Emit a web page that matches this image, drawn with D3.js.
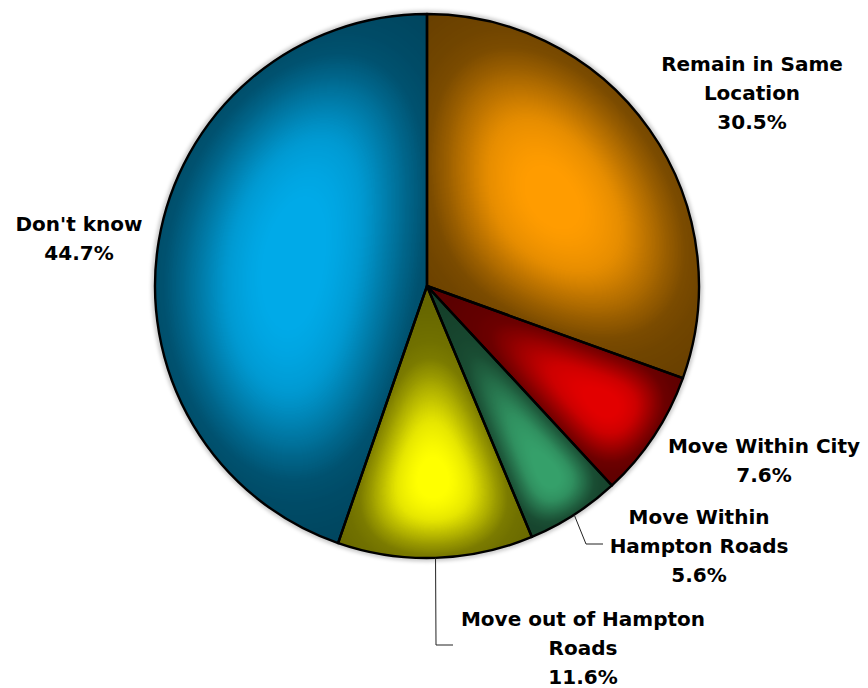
<!DOCTYPE html>
<html>
<head>
<meta charset="utf-8">
<script src="https://cdn.jsdelivr.net/npm/d3@7"></script>
<style>
  html, body { margin: 0; padding: 0; background: #ffffff; }
  svg { display: block; }
  text { font-family: "DejaVu Sans", "Liberation Sans", sans-serif; font-weight: bold; fill: #000; }
</style>
</head>
<body>
<svg id="chart" width="868" height="688"></svg>
<script>
// ---- data ----
const categories = ["Remain in Same Location", "Move Within City", "Move Within Hampton Roads", "Move out of Hampton Roads", "Don't know"];
const values = [30.5, 7.6, 5.6, 11.6, 44.7];
const labelLines = [["Remain in Same", "Location"], ["Move Within City"], ["Move Within", "Hampton Roads"], ["Move out of Hampton", "Roads"], ["Don't know"]];
const colors = ["#ff9c00", "#e20000", "#35a06a", "#ffff00", "#00aae8"];

// ---- layout (not data) ----
const W = 868, H = 688;
const cx = 427, cy = 286, R = 272;
const lineH = 29;
const labelLayout = [
  { x: 752, y: 71 },
  { x: 764, y: 453 },
  { x: 699, y: 524, elbow: [586, 544], endX: 603 },
  { x: 583, y: 626, elbow: [436, 645], endX: 453 },
  { x: 79, y: 231 }
];

const svg = d3.select("#chart");
const defs = svg.append("defs");

const data = categories.map((c, i) => ({ name: c, value: values[i], i }));
const pie = d3.pie().sort(null).value(d => d.value).startAngle(0).endAngle(2 * Math.PI);
const arcs = pie(data);
const arc = d3.arc().innerRadius(0).outerRadius(R);

// soft shadow filter
const sh = defs.append("filter").attr("id", "soft").attr("x", "-10%").attr("y", "-10%").attr("width", "120%").attr("height", "120%");
sh.append("feGaussianBlur").attr("stdDeviation", 2.2);

// bevel filters, one per slice; blur width follows the slice's inscribed radius
const darkTable = "0.6 0.6 0.6 0.58 0.56 0.52 0.4 0.26 0.1 0 0";
arcs.forEach((a, i) => {
  const theta = a.endAngle - a.startAngle;
  const s = Math.sin(Math.min(theta, Math.PI) / 2);
  const rin = R * s / (1 + s);
  const sigma = rin * 0.55;
  const f = defs.append("filter").attr("id", "bevel" + i)
    .attr("x", "-10%").attr("y", "-10%").attr("width", "120%").attr("height", "120%")
    .attr("color-interpolation-filters", "sRGB");
  f.append("feGaussianBlur").attr("in", "SourceAlpha").attr("stdDeviation", sigma).attr("result", "b");
  const ct = f.append("feComponentTransfer").attr("in", "b").attr("result", "t");
  ct.append("feFuncA").attr("type", "table").attr("tableValues", darkTable);
  f.append("feComposite").attr("in", "t").attr("in2", "SourceAlpha").attr("operator", "in").attr("result", "d");
  f.append("feComposite").attr("in", "d").attr("in2", "SourceGraphic").attr("operator", "over");
});

const g = svg.append("g").attr("transform", `translate(${cx},${cy})`);

// shadow halo
g.append("circle").attr("r", R + 1).attr("fill", "none").attr("stroke", "#000")
  .attr("stroke-opacity", 0.35).attr("stroke-width", 3).attr("filter", "url(#soft)");

// slices (fills with bevel shading)
g.selectAll("path.fill").data(arcs).join("path")
  .attr("class", "fill")
  .attr("d", arc)
  .attr("fill", (d, i) => colors[i])
  .attr("filter", (d, i) => `url(#bevel${i})`);

// slice outlines
g.selectAll("path.edge").data(arcs).join("path")
  .attr("class", "edge")
  .attr("d", arc)
  .attr("fill", "none")
  .attr("stroke", "#000")
  .attr("stroke-width", 2.4)
  .attr("stroke-linejoin", "round");

// leader lines
arcs.forEach((a, i) => {
  const L = labelLayout[i];
  if (!L.elbow) return;
  const mid = (a.startAngle + a.endAngle) / 2;
  const sx = cx + R * Math.sin(mid), sy = cy - R * Math.cos(mid);
  svg.append("path")
    .attr("d", d3.line()([[sx, sy], L.elbow, [L.endX, L.elbow[1]]]))
    .attr("fill", "none").attr("stroke", "#222").attr("stroke-width", 1);
});

// labels
const fmt = d3.format(".1f");
arcs.forEach((a, i) => {
  const L = labelLayout[i];
  const lines = labelLines[i].concat([fmt(a.data.value) + "%"]);
  const t = svg.append("text").attr("text-anchor", "middle").attr("font-size", 20);
  lines.forEach((ln, k) => {
    t.append("tspan").attr("x", L.x).attr("y", L.y + k * lineH).text(ln);
  });
});
</script>
</body>
</html>
